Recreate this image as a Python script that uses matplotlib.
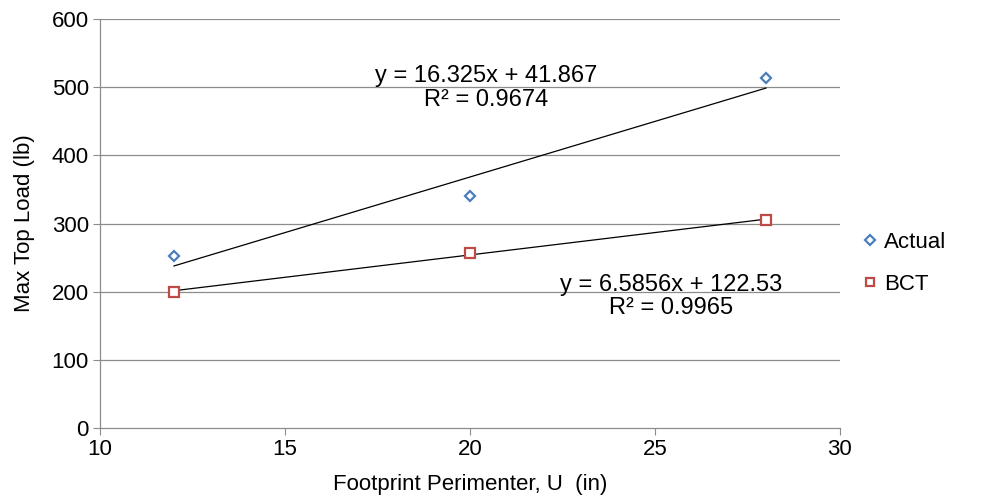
import matplotlib
matplotlib.use("Agg")
import matplotlib.pyplot as plt
import numpy as np

plt.rcParams['font.family'] = ['Liberation Sans', 'DejaVu Sans']

perimeter = [12, 20, 28]
actual = [252, 340, 513]
bct = [200, 257, 305]
x_ticks = [10, 15, 20, 25, 30]
y_ticks = [0, 100, 200, 300, 400, 500, 600]

FS = 16
FS_EQ = 17

fig = plt.figure(figsize=(9.84, 5.03), dpi=100)
ax = fig.add_axes([0.1016, 0.149, 0.752, 0.813])

grid_c = '#8c8c8c'
for yv in y_ticks[1:]:
    ax.axhline(yv, color=grid_c, lw=0.9, zorder=0)

ax.plot(perimeter, actual, linestyle='none', marker='D', markersize=5.5,
        markerfacecolor='white', markeredgecolor='#4a7ebb', markeredgewidth=1.6,
        label='Actual', zorder=3)
ax.plot(perimeter, bct, linestyle='none', marker='s', markersize=7,
        markerfacecolor='white', markeredgecolor='#be4b48', markeredgewidth=1.6,
        label='BCT', zorder=3)

for ys in (actual, bct):
    m, b = np.polyfit(perimeter, ys, 1)
    xs = np.array([perimeter[0], perimeter[-1]])
    ax.plot(xs, m * xs + b, color='black', lw=0.9, zorder=2)

ax.set_xlim(10, 30)
ax.set_ylim(0, 600)
ax.set_xticks(x_ticks)
ax.set_yticks(y_ticks)
ax.tick_params(labelsize=FS, length=5, color=grid_c, direction='out', pad=3)
for s in ['top', 'right']:
    ax.spines[s].set_visible(False)
for s in ['left', 'bottom']:
    ax.spines[s].set_color(grid_c)
    ax.spines[s].set_linewidth(0.9)

ax.set_xlabel('Footprint Perimenter, U  (in)', fontsize=FS, labelpad=10)
ax.set_ylabel('Max Top Load (lb)', fontsize=FS, labelpad=12)

ax.text(20.43, 499, 'y = 16.325x + 41.867\nR² = 0.9674', fontsize=FS_EQ,
        ha='center', va='center', linespacing=1.08)
ax.text(25.43, 193, 'y = 6.5856x + 122.53\nR² = 0.9965', fontsize=FS_EQ,
        ha='center', va='center', linespacing=1.08)

fig.legend(loc='center left', bbox_to_anchor=(0.858, 0.476), frameon=False,
           fontsize=FS, handlelength=0.5, handletextpad=0.4, labelspacing=0.95,
           markerscale=0.85)

fig.savefig('out.png', dpi=100)
